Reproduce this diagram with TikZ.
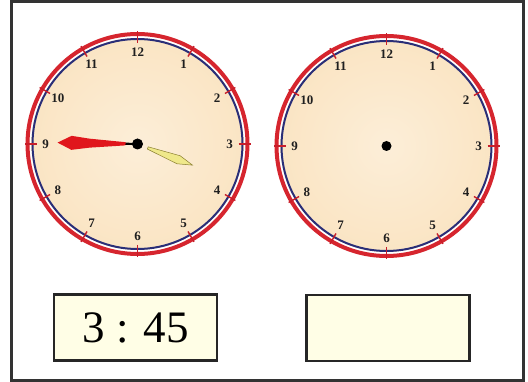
\documentclass[tikz,border=0pt]{standalone}
\usepackage{fontspec}
\setmainfont{Liberation Serif}
\definecolor{ringred}{HTML}{D6252E}
\definecolor{tickred}{HTML}{C81E2A}
\definecolor{navy}{HTML}{2A2E78}
\definecolor{faceIn}{HTML}{FCEED8}
\definecolor{faceMid}{HTML}{FAE3C0}
\definecolor{faceOut}{HTML}{F6D29C}
\definecolor{framegray}{HTML}{333333}
\definecolor{boxfill}{HTML}{FFFEE6}
\definecolor{handyellow}{HTML}{EFE88A}
\definecolor{handedge}{HTML}{8A7F30}
\definecolor{handred}{HTML}{E0161C}
\pgfdeclareradialshading{facesh}{\pgfpoint{0bp}{0bp}}{color(0bp)=(faceIn); color(30bp)=(faceMid); color(50bp)=(faceOut)}
\tikzset{
  numlbl/.style={inner sep=0pt, text=black!88, font=\fontsize{13}{13}\selectfont\bfseries},
  answerbox/.style={draw=black!85, line width=2.5pt, fill=boxfill, minimum width=163pt, minimum height=66pt, inner sep=0pt, font=\fontsize{45}{45}\selectfont},
  frameline/.style={draw=framegray, line width=3pt},
}
\newcommand{\myclockface}[3]{%
  \begin{scope}[shift={(#2,#3)}]
    \shade[shading=facesh] (0,0) circle (106pt);
    \draw[navy, line width=2pt] (0,0) circle (105pt);
    \draw[ringred, line width=4pt] (0,0) circle (110pt);
    \foreach \h in {1,...,12} {
      \draw[tickred, line width=1.4pt] (-90+\h*30:101) -- (-90+\h*30:113);
      \node[numlbl] (#1\h) at (-90+\h*30:92) {\h};
    }
    \fill[black] (0,0) circle (5pt);
    \coordinate (#1c) at (0,0);
  \end{scope}}
\begin{document}
\begin{tikzpicture}[x=1pt, y=-1pt]
  \useasboundingbox (0,0) rectangle (528,382);
  \fill[white] (0,0) rectangle (528,382);
  \draw[frameline] (11.5,2) rectangle (523.5,380.5);
  \myclockface{L}{137.5}{144}
  \myclockface{R}{386.5}{146}
  % hands of left clock
  \begin{scope}[shift={(137.5,144)}, rotate=-181]
    \draw[black, line width=2.2pt] (0,0) -- (13,0);
    \fill[handred] (12,-1.6) -- (48,-4.5) -- (66,-7) -- (80,0) -- (66,7) -- (48,4.5) -- (12,1.6) -- cycle;
  \end{scope}
  \begin{scope}[shift={(137.5,144)}, rotate=-21]
    \filldraw[fill=handyellow, draw=handedge, line width=0.5pt] (11,-1.2) -- (44,-4.3) -- (59,0) -- (44,4.3) -- (11,1.2) -- cycle;
  \end{scope}
  \fill[black] (137.5,144) circle (5.5pt);
  % answer boxes
  \node[answerbox] (ansL) at (135.5,327.5) {3 : 45};
  \node[answerbox] (ansR) at (388,328) {};
\end{tikzpicture}
\end{document}
